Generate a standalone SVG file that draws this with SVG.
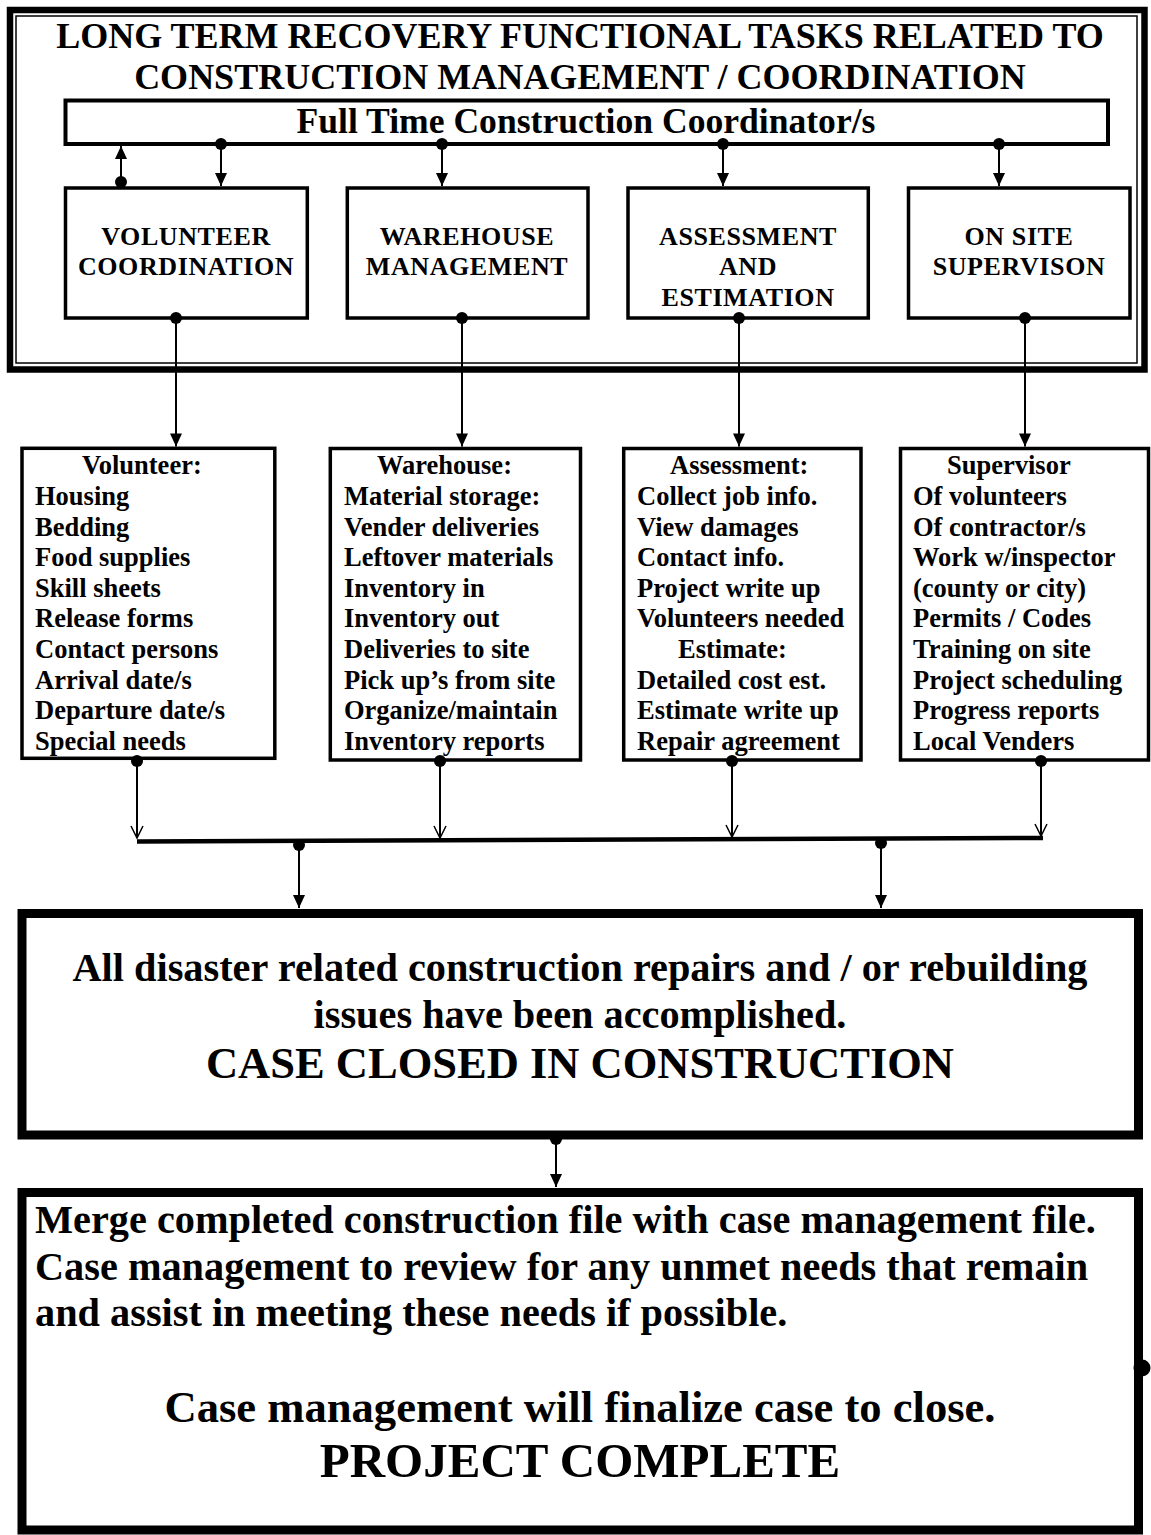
<svg xmlns="http://www.w3.org/2000/svg" width="1151" height="1535" viewBox="0 0 1151 1535">
<style>
text{font-family:"Liberation Serif","Times New Roman",serif;font-weight:bold;fill:#000}
.title{font-size:36px;text-anchor:middle}
.coord{font-size:35.6px;text-anchor:middle}
.lbl{font-size:26px;letter-spacing:0.6px;text-anchor:middle}
.item{font-size:26.5px}
.big{font-size:40.3px}
.huge{font-size:44.5px;text-anchor:middle}
.mid{text-anchor:middle}
.box{fill:#fff;stroke:#000;stroke-width:3.5}
.heavy{fill:none;stroke:#000;stroke-width:9}
.con{fill:none;stroke:#000;stroke-width:2}
.dn{marker-start:url(#dot);marker-end:url(#arr)}
.op{marker-start:url(#dot);marker-end:url(#open)}
</style>
<defs>
<marker id="dot" markerUnits="userSpaceOnUse" markerWidth="14" markerHeight="14" refX="7" refY="7" overflow="visible"><circle cx="7" cy="7" r="6"/></marker>
<marker id="arr" markerUnits="userSpaceOnUse" markerWidth="14" markerHeight="12" refX="13" refY="6" orient="auto" overflow="visible"><path d="M0,0 L13,6 L0,12 z"/></marker>
<marker id="open" markerUnits="userSpaceOnUse" markerWidth="14" markerHeight="12" refX="12" refY="6" orient="auto" overflow="visible"><path d="M0,0 L12,6 L0,12" fill="none" stroke="#000" stroke-width="1.5"/></marker>
</defs>
<rect width="1151" height="1535" fill="#fff"/>

<g id="top-frame">
<rect x="10" y="10" width="1134.5" height="359.5" fill="none" stroke="#000" stroke-width="6.5"/>
<rect x="16" y="16" width="1121" height="347" fill="none" stroke="#000" stroke-width="1.5"/>
<text class="title" x="580" y="48">LONG TERM RECOVERY FUNCTIONAL TASKS RELATED TO</text>
<text class="title" x="580" y="89">CONSTRUCTION MANAGEMENT / COORDINATION</text>
</g>

<g id="coordinator">
<rect x="65.5" y="100.5" width="1042.5" height="43.5" fill="#fff" stroke="#000" stroke-width="4"/>
<text class="coord" x="586" y="133">Full Time Construction Coordinator/s</text>
</g>

<g id="volunteer-coordination">
<rect class="box" x="65.5" y="188" width="241.8" height="130"/>
<text class="lbl" x="186" y="245">VOLUNTEER</text>
<text class="lbl" x="186" y="275">COORDINATION</text>
</g>
<g id="warehouse-management">
<rect class="box" x="347.3" y="188" width="240.7" height="130"/>
<text class="lbl" x="467" y="245">WAREHOUSE</text>
<text class="lbl" x="467" y="275">MANAGEMENT</text>
</g>
<g id="assessment-estimation">
<rect class="box" x="628" y="188" width="240.3" height="130"/>
<text class="lbl" x="748" y="245">ASSESSMENT</text>
<text class="lbl" x="748" y="275">AND</text>
<text class="lbl" x="748" y="306">ESTIMATION</text>
</g>
<g id="on-site-supervision">
<rect class="box" x="908.5" y="188" width="221.5" height="130"/>
<text class="lbl" x="1019" y="245">ON SITE</text>
<text class="lbl" x="1019" y="275">SUPERVISON</text>
</g>

<g id="volunteer-tasks">
<rect class="box" x="22" y="448.3" width="252.8" height="310"/>
<text class="item" x="82" y="474">Volunteer:</text>
<text class="item" x="35" y="505">Housing</text>
<text class="item" x="35" y="535.6">Bedding</text>
<text class="item" x="35" y="566.2">Food supplies</text>
<text class="item" x="35" y="596.8">Skill sheets</text>
<text class="item" x="35" y="627.4">Release forms</text>
<text class="item" x="35" y="658">Contact persons</text>
<text class="item" x="35" y="688.6">Arrival date/s</text>
<text class="item" x="35" y="719.2">Departure date/s</text>
<text class="item" x="35" y="749.8">Special needs</text>
</g>
<g id="warehouse-tasks">
<rect class="box" x="330.3" y="448.5" width="250.2" height="311.5"/>
<text class="item" x="377" y="474">Warehouse:</text>
<text class="item" x="344" y="505">Material storage:</text>
<text class="item" x="344" y="535.6">Vender deliveries</text>
<text class="item" x="344" y="566.2">Leftover materials</text>
<text class="item" x="344" y="596.8">Inventory in</text>
<text class="item" x="344" y="627.4">Inventory out</text>
<text class="item" x="344" y="658">Deliveries to site</text>
<text class="item" x="344" y="688.6">Pick up’s from site</text>
<text class="item" x="344" y="719.2">Organize/maintain</text>
<text class="item" x="344" y="749.8">Inventory reports</text>
</g>
<g id="assessment-tasks">
<rect class="box" x="623.7" y="448.5" width="237.3" height="311.5"/>
<text class="item" x="670" y="474">Assessment:</text>
<text class="item" x="637" y="505">Collect job info.</text>
<text class="item" x="637" y="535.6">View damages</text>
<text class="item" x="637" y="566.2">Contact info.</text>
<text class="item" x="637" y="596.8">Project write up</text>
<text class="item" x="637" y="627.4">Volunteers needed</text>
<text class="item" x="678" y="658">Estimate:</text>
<text class="item" x="637" y="688.6">Detailed cost est.</text>
<text class="item" x="637" y="719.2">Estimate write up</text>
<text class="item" x="637" y="749.8">Repair agreement</text>
</g>
<g id="supervisor-tasks">
<rect class="box" x="900.5" y="448.5" width="248" height="311.5"/>
<text class="item" x="947" y="474">Supervisor</text>
<text class="item" x="913" y="505">Of volunteers</text>
<text class="item" x="913" y="535.6">Of contractor/s</text>
<text class="item" x="913" y="566.2">Work w/inspector</text>
<text class="item" x="913" y="596.8">(county or city)</text>
<text class="item" x="913" y="627.4">Permits / Codes</text>
<text class="item" x="913" y="658">Training on site</text>
<text class="item" x="913" y="688.6">Project scheduling</text>
<text class="item" x="913" y="719.2">Progress reports</text>
<text class="item" x="913" y="749.8">Local Venders</text>
</g>

<g id="case-closed">
<rect class="heavy" x="22" y="913.5" width="1116.5" height="221.5"/>
<text class="big mid" x="580" y="981">All disaster related construction repairs and / or rebuilding</text>
<text class="big mid" x="580" y="1028">issues have been accomplished.</text>
<text class="huge" x="580" y="1078">CASE CLOSED IN CONSTRUCTION</text>
</g>

<g id="project-complete">
<rect class="heavy" x="22" y="1192.5" width="1116.5" height="337.5"/>
<text class="big" x="35" y="1233">Merge completed construction file with case management file.</text>
<text class="big" x="35" y="1280">Case management to review for any unmet needs that remain</text>
<text class="big" x="35" y="1326">and assist in meeting these needs if possible.</text>
<text class="mid" style="font-size:44.6px" x="580" y="1422">Case management will finalize case to close.</text>
<text class="mid" style="font-size:49px" x="580" y="1477">PROJECT COMPLETE</text>
<circle cx="1142" cy="1368" r="8.5"/>
</g>

<g id="connectors">
<line class="con dn" x1="121" y1="182" x2="121" y2="146"/>
<line class="con dn" x1="221" y1="144" x2="221" y2="186"/>
<line class="con dn" x1="442" y1="144" x2="442" y2="186"/>
<line class="con dn" x1="723" y1="144" x2="723" y2="186"/>
<line class="con dn" x1="999" y1="144" x2="999" y2="186"/>

<line class="con dn" x1="176" y1="318" x2="176" y2="446.5"/>
<line class="con dn" x1="462" y1="318" x2="462" y2="446.5"/>
<line class="con dn" x1="739" y1="318" x2="739" y2="446.5"/>
<line class="con dn" x1="1025" y1="318" x2="1025" y2="446.5"/>

<line class="con op" x1="137" y1="761" x2="137" y2="838"/>
<line class="con op" x1="440" y1="761" x2="440" y2="838"/>
<line class="con op" x1="732" y1="761" x2="732" y2="837"/>
<line class="con op" x1="1041" y1="761" x2="1041" y2="836"/>
<line x1="137" y1="841.5" x2="1043" y2="838" stroke="#000" stroke-width="4.5"/>

<line class="con dn" x1="299" y1="845" x2="299" y2="908"/>
<line class="con dn" x1="881" y1="843" x2="881" y2="908"/>

<line class="con dn" x1="556" y1="1139" x2="556" y2="1187"/>
</g>
</svg>
